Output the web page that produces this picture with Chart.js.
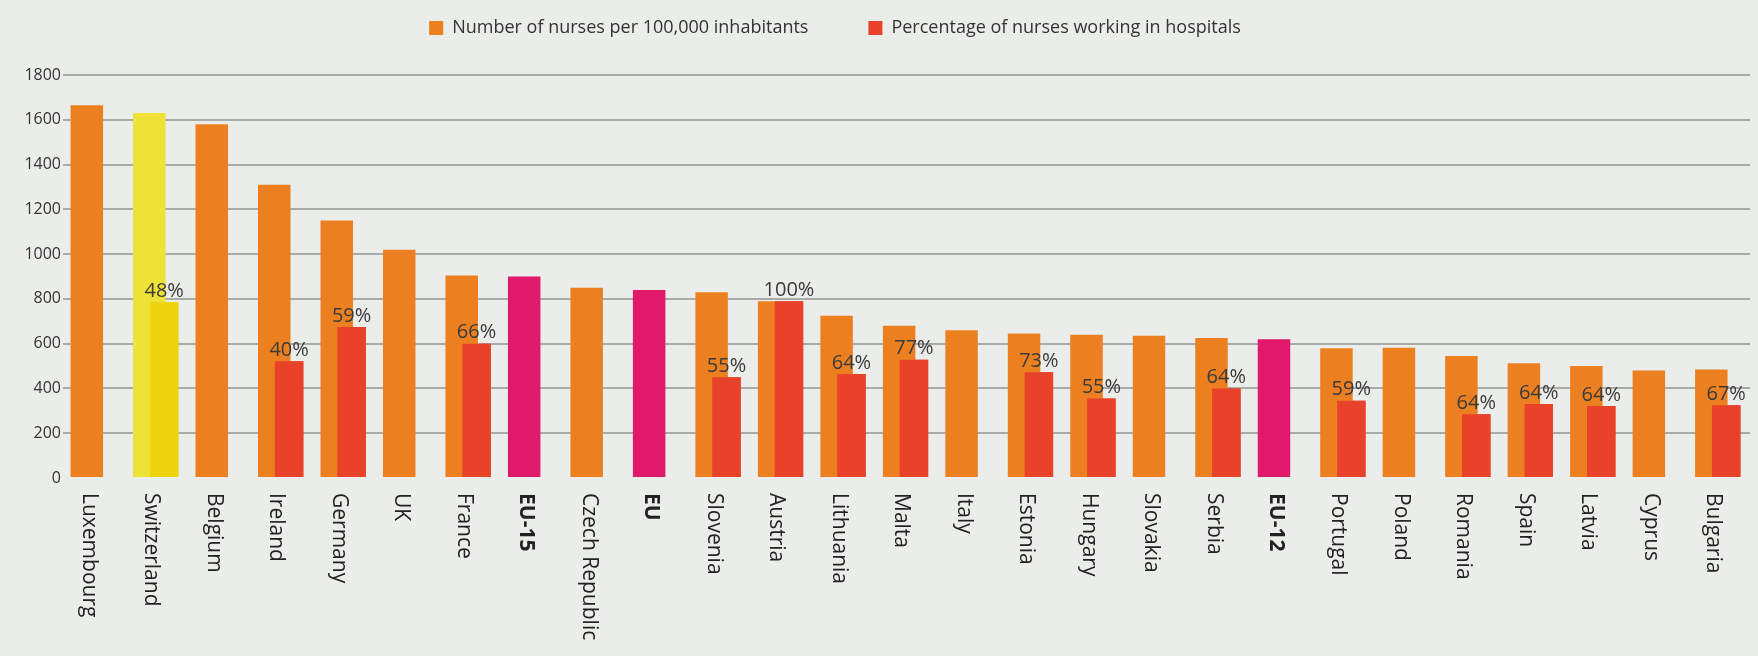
<!DOCTYPE html>
<html>
<head>
<meta charset="utf-8">
<script src="https://cdn.jsdelivr.net/npm/chart.js@4.4.1/dist/chart.umd.min.js"></script>
<style>
    html, body { margin: 0; padding: 0; background: #ebedea; }
    #wrap { width: 1758px; height: 656px; }
</style>
</head>
<body>
<div id="wrap"><canvas id="chart"></canvas></div>
<script>
// Values
const countries = ['Luxembourg', 'Switzerland', 'Belgium', 'Ireland', 'Germany', 'UK', 'France', 'EU-15',
    'Czech Republic', 'EU', 'Slovenia', 'Austria', 'Lithuania', 'Malta', 'Italy', 'Estonia', 'Hungary',
    'Slovakia', 'Serbia', 'EU-12', 'Portugal', 'Poland', 'Romania', 'Spain', 'Latvia', 'Cyprus', 'Bulgaria'];
const nurses = [1665, 1630, 1580, 1310, 1150, 1020, 905, 900,
    850, 840, 830, 790, 725, 680, 660, 645, 640,
    635, 625, 620, 580, 582, 545, 512, 500, 480, 485];
const hospitalNurses = [null, 785, null, 522, 674, null, 600, null,
    null, null, 450, 790, 465, 528, null, 472, 355,
    null, 400, null, 345, null, 285, 330, 322, null, 325];
const hospitalPct = ['', '48%', '', '40%', '59%', '', '66%', '',
    '', '', '55%', '100%', '64%', '77%', '', '73%', '55%',
    '', '64%', '', '59%', '', '64%', '64%', '64%', '', '67%'];
const aggregates = ['EU-15', 'EU', 'EU-12'];
const yMax = 1800;
const yStep = 200;

const ORANGE = '#ec8020';
const RED = '#e8432a';
const PINK = '#e0196a';
const YELLOW = '#efe236';
const YELLOW_DARK = '#eed30e';

Chart.defaults.font.family = '"Open Sans", sans-serif';
Chart.defaults.color = '#333';

const orangeColors = countries.map(c => aggregates.includes(c) ? PINK : (c === 'Switzerland' ? YELLOW : ORANGE));
const redColors = countries.map(c => c === 'Switzerland' ? YELLOW_DARK : RED);

// red bars sit on the right half and must be painted over the orange ones
const overlay = {
    id: 'overlay',
    afterLayout(chart) {
        chart.legend.top = -41;
        chart.legend.right -= 80;
    },
    afterDatasetsDraw(chart) {
        const c = chart.ctx;
        const meta = chart.getDatasetMeta(1);
        meta.controller.draw();

        c.save();
        c.font = '20px "Open Sans", sans-serif';
        c.fillStyle = '#3a3a3a';
        c.textAlign = 'center';
        c.textBaseline = 'bottom';
        meta.data.forEach((el, i) => {
            if (hospitalPct[i]) c.fillText(hospitalPct[i], el.x, el.y - 1);
        });
        c.restore();
    },
    afterDraw(chart) {
        const c = chart.ctx;
        const bars = chart.getDatasetMeta(0).data;
        const y = chart.chartArea.bottom + 15;
        c.save();
        c.fillStyle = '#222';
        c.textAlign = 'left';
        c.textBaseline = 'middle';
        countries.forEach((name, i) => {
            c.font = (aggregates.includes(name) ? 'bold ' : '') + '21px "Open Sans", sans-serif';
            c.save();
            c.translate(bars[i].x + 2, y);
            c.rotate(Math.PI / 2);
            c.fillText(name, 0, 0);
            c.restore();
        });
        c.restore();
    }
};

const ctx = document.getElementById('chart').getContext('2d');
const chart = new Chart(ctx, {
    type: 'bar',
    data: {
        labels: countries,
        datasets: [{
            label: 'Number of nurses per 100,000 inhabitants',
            data: nurses,
            backgroundColor: orangeColors,
            categoryPercentage: 0.475,
            barPercentage: 2.19
        }, {
            label: 'Percentage of nurses working in hospitals',
            data: hospitalNurses,
            backgroundColor: redColors,
            categoryPercentage: 0.475,
            barPercentage: 1.92
        }]
    },
    options: {
        responsive: true,
        maintainAspectRatio: false,
        animation: false,
        layout: {
            padding: { top: 0, right: 8, bottom: 178, left: 0 }
        },
        plugins: {
            legend: {
                position: 'top',
                maxHeight: 75,
                labels: {
                    boxWidth: 14,
                    boxHeight: 14,
                    padding: 60,
                    color: '#333',
                    font: { size: 18 }
                }
            },
            tooltip: { enabled: false }
        },
        scales: {
            x: {
                grid: { display: false },
                border: { display: false },
                ticks: { display: false },
                afterFit(scale) { scale.height = 0; }
            },
            y: {
                min: 0,
                max: yMax,
                border: { display: false },
                grid: {
                    color: c => c.tick.value === 0 ? 'rgba(0,0,0,0)' : '#a9aba8',
                    lineWidth: 2,
                    drawTicks: false
                },
                ticks: {
                    stepSize: yStep,
                    padding: 2,
                    color: '#333',
                    font: { size: 16 },
                    callback: v => String(v)
                },
                afterFit(scale) { scale.width = 63; }
            }
        }
    },
    plugins: [overlay]
});
</script>
</body>
</html>
